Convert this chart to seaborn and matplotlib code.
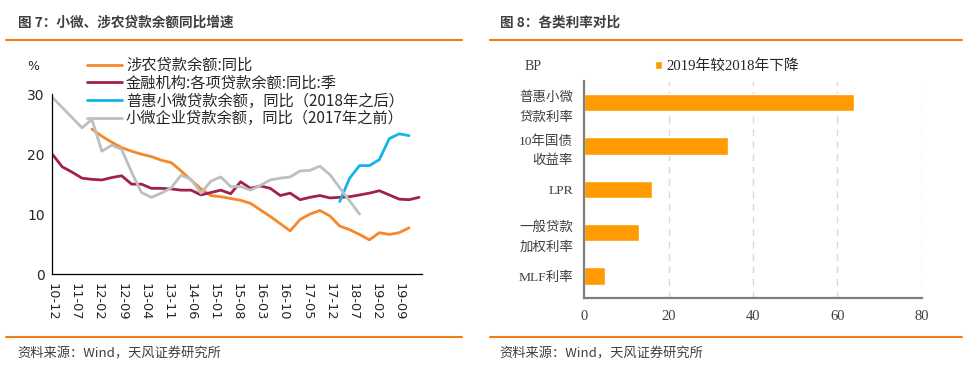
import pandas as pd
import matplotlib
matplotlib.use('Agg')
import matplotlib.pyplot as plt
import seaborn as sns
from matplotlib.lines import Line2D

# ---- data: figure 7 (quarterly, 2010Q4 .. 2020Q1) ----
quarters = [str(p) for p in pd.period_range('2010Q4', '2020Q1', freq='Q')]
loan_all = [20.0, 17.9, 17.0, 16.0, 15.8, 15.7, 16.1, 16.4, 15.0, 15.0, 14.3, 14.3, 14.2,
            14.0, 14.0, 13.2, 13.6, 14.0, 13.4, 15.4, 14.3, 14.7, 14.3, 13.1, 13.5, 12.4,
            12.8, 13.1, 12.7, 12.8, 12.9, 13.2, 13.5, 13.9, 13.2, 12.5, 12.4, 12.8]
agri = [None] * 4 + [24.2, 23.0, 22.0, 21.1, 20.5, 20.0, 19.6, 19.0, 18.6, 17.2, 15.7, 14.2,
                     13.1, 12.9, 12.6, 12.3, 11.8, 10.7, 9.6, 8.4, 7.2, 9.1, 10.0, 10.6, 9.7,
                     8.0, 7.4, 6.6, 5.7, 6.9, 6.6, 6.9, 7.7] + [None]
inclusive = [None] * 29 + [12.1, 16.0, 18.1, 18.1, 19.1, 22.6, 23.4, 23.1] + [None]
small_ent = [29.5, 27.8, 26.1, 24.4, 25.8, 20.5, 21.5, 20.8, 17.0, 13.6, 12.8, 13.5, 14.4,
             16.5, 15.8, 13.5, 15.5, 16.2, 14.6, 14.6, 14.0, 14.8, 15.7, 16.0, 16.2, 17.2,
             17.3, 18.0, 16.6, 14.4, 12.2, 10.0] + [None] * 6
series_names = ['涉农贷款余额:同比', '金融机构:各项贷款余额:同比:季',
                '普惠小微贷款余额，同比（2018年之后）', '小微企业贷款余额，同比（2017年之前）']
xtick_labels = ['10-12', '11-07', '12-02', '12-09', '13-04', '13-11', '14-06', '15-01',
                '15-08', '16-03', '16-10', '17-05', '17-12', '18-07', '19-02', '19-09', '']

# ---- data: figure 8 ----
rate_items = ['普惠小微\n贷款利率', '10年国债\n收益率', 'LPR', '一般贷款\n加权利率', 'MLF利率']
rate_drop = [64, 34, 16, 13, 5]
rate_series = '2019年较2018年下降'

sns.set_style('white')
plt.rcParams['font.family'] = ['Noto Sans CJK SC', 'DejaVu Sans']

colors = ['#F5882A', '#A2214B', '#12B4EA', '#BFBFBF']
rule_color = '#F07D1A'
text_color = '#3F3F3F'

fig = plt.figure(figsize=(9.7, 3.69), dpi=100)
W, H = 970.0, 369.0

def fx(px):
    return px / W

def fy(py):
    return 1 - py / H

# month offset from 2010-12 for each quarter
months = [(int(q[:4]) - 2010) * 12 + int(q[-1]) * 3 - 12 for q in quarters]
rows = []
for name, vals in zip(series_names, [agri, loan_all, inclusive, small_ent]):
    for m, v in zip(months, vals):
        if v is not None:
            rows.append({'month': m, 'value': v, 'series': name})
df = pd.DataFrame(rows)

ax1 = fig.add_axes([fx(52.3), fy(274), fx(422.3) - fx(52.3), fy(94.3) - fy(274)])
sns.lineplot(data=df, x='month', y='value', hue='series', hue_order=series_names,
             palette=dict(zip(series_names, colors)), linewidth=2.0, ax=ax1, legend=True)
ax1.set_xlim(0, 112)
ax1.set_ylim(0, 30)
ax1.set_xticks(range(0, 113, 7))
ax1.set_xticklabels(xtick_labels, rotation=-90, fontsize=9.3, family='DejaVu Sans')
ax1.set_yticks([0, 10, 20, 30])
ax1.set_yticklabels(['0', '10', '20', '30'], fontsize=10, family='DejaVu Sans')
ax1.tick_params(axis='both', direction='out', length=3.5, width=0.8, color='black', pad=2)
ax1.tick_params(axis='x', pad=3)
for s in ['top', 'right']:
    ax1.spines[s].set_visible(False)
for s in ['left', 'bottom']:
    ax1.spines[s].set_color('black')
    ax1.spines[s].set_linewidth(0.9)
ax1.set_xlabel('')
ax1.set_ylabel('')
ax1.legend(loc='upper left', bbox_to_anchor=(fx(87), fy(57)), bbox_transform=fig.transFigure,
           frameon=False, fontsize=11, handlelength=2.3, handletextpad=0.25,
           labelspacing=0.05, borderpad=0, borderaxespad=0)
fig.text(fx(33), fy(66), '%', fontsize=9, ha='center', va='center', family='DejaVu Sans')

# ---- figure 8 bars ----
bars = pd.DataFrame({'item': rate_items, 'value': rate_drop, 'series': rate_series})
ax2 = fig.add_axes([fx(584.3), fy(297.7), fx(921.7) - fx(584.3), fy(81) - fy(297.7)])
sns.barplot(data=bars, x='value', y='item', hue='series', palette=['#FF9A00'],
            orient='h', width=0.4, ax=ax2, saturation=1)
ax2.set_xlim(0, 80)
ax2.set_xticks([0, 20, 40, 60, 80])
ax2.set_xticklabels(['0', '20', '40', '60', '80'], family='Liberation Serif', fontsize=10.5,
                    color=text_color)
ax2.set_yticks(range(len(rate_items)))
ax2.set_yticklabels(rate_items, family=['Liberation Serif', 'Noto Sans CJK SC'],
                    fontsize=9.7, color=text_color, linespacing=1.75)
ax2.tick_params(axis='y', length=0, pad=8)
ax2.tick_params(axis='x', direction='out', length=3, width=1.2, color='#7F7F7F', pad=6)
ax2.xaxis.grid(True, linestyle=(0, (5, 4)), color='#D9D9D9', linewidth=1)
ax2.set_axisbelow(True)
for s in ['top', 'right']:
    ax2.spines[s].set_visible(False)
for s in ['left', 'bottom']:
    ax2.spines[s].set_color('#7F7F7F')
    ax2.spines[s].set_linewidth(1.6)
ax2.set_xlabel('')
ax2.set_ylabel('')
ax2.legend(loc='center left', bbox_to_anchor=(fx(655), fy(66)), bbox_transform=fig.transFigure,
           frameon=False, prop={'family': ['Liberation Serif', 'Noto Sans CJK SC'], 'size': 10.6},
           handlelength=0.5, handleheight=0.5, handletextpad=0.3, borderpad=0,
           borderaxespad=0)
fig.text(fx(525), fy(66), 'BP', fontsize=10, ha='left', va='center',
         family='Liberation Serif', color=text_color)

# ---- titles, rules and sources ----
fig.text(fx(18), fy(23), '图 7：小微、涉农贷款余额同比增速', fontsize=9.8, weight='bold',
         color=text_color, va='center')
fig.text(fx(500), fy(23), '图 8：各类利率对比', fontsize=9.8, weight='bold',
         color=text_color, va='center')
for x0, x1 in [(6, 462), (490, 962)]:
    for yy in [40, 337]:
        fig.add_artist(Line2D([fx(x0), fx(x1)], [fy(yy), fy(yy)], color=rule_color,
                              linewidth=1.5, transform=fig.transFigure))
fig.text(fx(17), fy(354), '资料来源：Wind，天风证券研究所', fontsize=9.5, color=text_color,
         va='center')
fig.text(fx(499), fy(354), '资料来源：Wind，天风证券研究所', fontsize=9.5, color=text_color,
         va='center')

fig.savefig('out.png', dpi=100)
